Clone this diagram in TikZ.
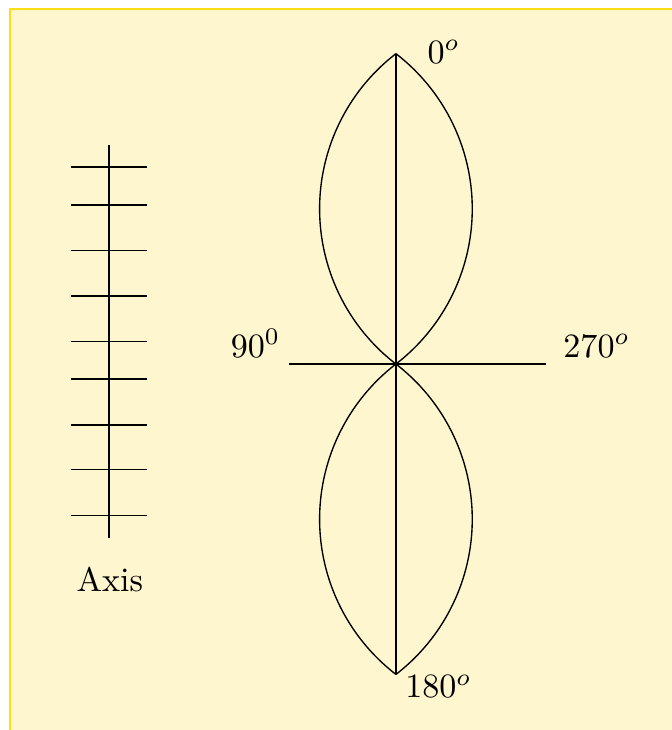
\documentclass[tikz,border=0pt]{standalone}
\usepackage{tikz}
\definecolor{paleyellow}{RGB}{253,246,206}
\definecolor{frameyellow}{RGB}{255,221,20}

\begin{document}
\begin{tikzpicture}[x=1cm, y=1cm,
		lbl/.style={inner sep=0pt, anchor=base west}]
		%Bildbereich
		\useasboundingbox (-4.082,-3.773) rectangle (2.845,3.753);
		\clip (-4.082,-3.773) rectangle (2.845,3.753);
		\filldraw[fill=paleyellow, draw=frameyellow] (-3.98,-4.5) rectangle (3.5,3.66);
		% Punkte
		\coordinate (O) at (0,0);
		\coordinate (T) at (0,3.2);
		\coordinate (B) at (0,-3.2);
		\coordinate (W) at (-1.1,0);
		\coordinate (E) at (1.55,0);
		% Keulen zeichnen
		\draw (O) -- (T);
		\draw (O) -- (B);
		\draw (W) -- (E);
		\draw (O) arc[start angle=232.38, end angle=127.62, radius=2.02];
		\draw (O) arc[start angle=-52.38, end angle=52.38, radius=2.02];
		\draw (O) arc[start angle=127.62, end angle=232.38, radius=2.02];
		\draw (O) arc[start angle=52.38, end angle=-52.38, radius=2.02];
		% Achse zeichnen
		\coordinate (A1) at (-2.96,2.26);
		\coordinate (A2) at (-2.96,-1.79);
		\draw (A1) -- (A2);
		\foreach \y in {2.03,1.64,1.17,0.70,0.23,-0.155,-0.63,-1.09,-1.56} \draw (-3.35,\y) -- (-2.57,\y);
		%Beschriftung
		\node[lbl] (n0) at (0.32,3.10) {$0^o$};
		\node[lbl] (n90) at (-1.71,0.07) {$90^0$};
		\node[lbl] (n270) at (1.72,0.07) {$270^o$};
		\node[lbl] (n180) at (0.09,-3.44) {$180^o$};
		\node[inner sep=0pt, anchor=base] (axis) at (-2.95,-2.34) {Axis};
\end{tikzpicture}
\end{document}
